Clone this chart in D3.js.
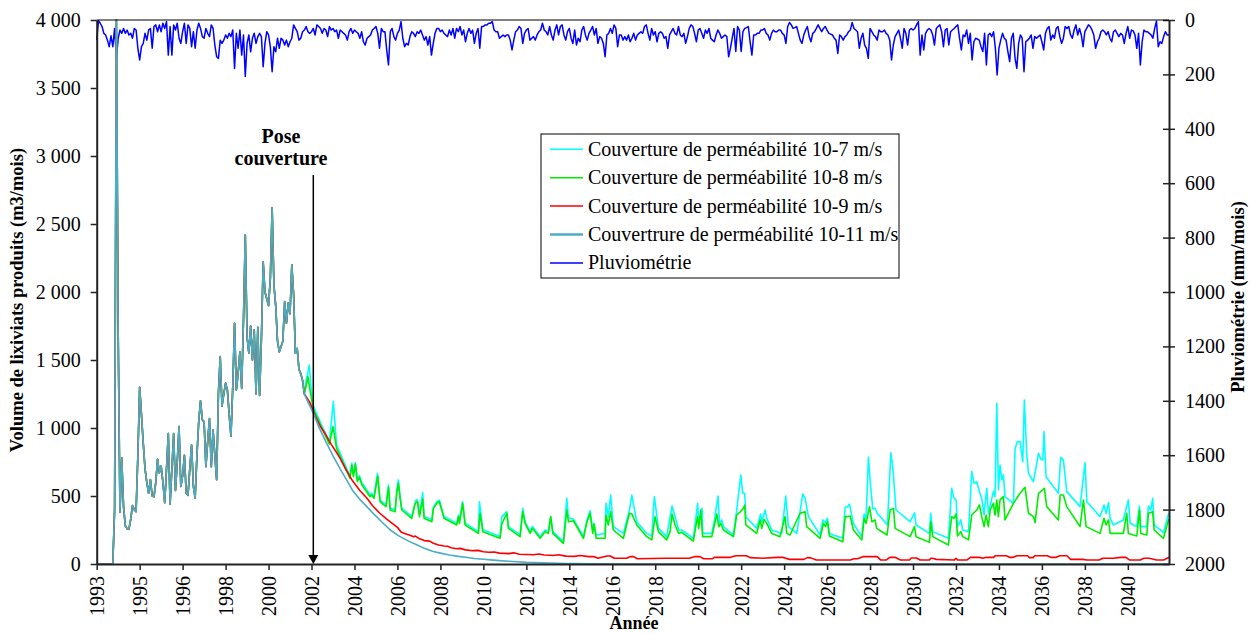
<!DOCTYPE html>
<html>
<head>
<meta charset="utf-8">
<script src="https://cdn.jsdelivr.net/npm/d3@7"></script>
<style>
    body { margin: 0; background: #ffffff; }
    svg text { font-family: "Liberation Serif", "Times New Roman", serif; }
</style>
</head>
<body>
<svg id="chart" width="1251" height="634"></svg>
<script>

// ----- DATA -----

// x axis is a month index from 1993, one label every 24 months
var tickYears = ["1993", "1995", "1996", "1998", "2000", "2002", "2004", "2006", "2008", "2010",
    "2012", "2014", "2016", "2018", "2020", "2022", "2024", "2026", "2028", "2030",
    "2032", "2034", "2036", "2038", "2040"];
var leftTicks = [0, 500, 1000, 1500, 2000, 2500, 3000, 3500, 4000];
var rightTicks = [0, 200, 400, 600, 800, 1000, 1200, 1400, 1600, 1800, 2000];
var poseMonth = 121;

// leachate volume before the cover (common to every scenario), months 0..116
var leachateBefore = [
    0, 0, 0, 0, 0, 0, 0, 0, 0, 0, 400, 4000,
    1700, 380, 780, 420, 280, 260, 255, 330, 430, 400, 385, 800,
    1300, 1100, 890, 700, 600, 520, 620, 500, 495, 600, 770, 670,
    720, 600, 450, 700, 960, 440, 700, 960, 540, 750, 1010, 570,
    650, 800, 520, 505, 700, 875, 570, 485, 800, 1050, 1200, 1060,
    1045, 716, 900, 1070, 716, 985, 800, 620, 1255, 1525, 1160, 1250,
    1330, 1280, 1100, 940, 1300, 1770, 1280, 1400, 1560, 1290, 1800, 2420,
    1670, 1550, 1750, 1500, 1720, 1250, 1740, 1240, 1650, 2220, 2000, 1950,
    1900, 2100, 2620, 2050, 1900, 1640, 1560, 1600, 1640, 1930, 1770, 1920,
    1840, 2200, 1980, 1550, 1585, 1430, 1400, 1350, 1250
];

// after the cover: [month, m3/mois]
var cover7 = [
    [116, 1250], [117, 1350], [118.8, 1463], [119.5, 1330], [121, 1160], [125, 1040], [130, 900], [132.2, 1194], [134, 875],
    [141.5, 647], [142.5, 740], [143.4, 655], [144.5, 745], [145.6, 620], [146.7, 650], [148.2, 595], [152.7, 510], [153.6, 520],
    [154.9, 497], [156.8, 667], [158.3, 470], [161.6, 433], [163, 581], [163.9, 410], [166.7, 398], [167.6, 540], [168.5, 618],
    [169.5, 497], [170.4, 410], [176, 350], [178.4, 471], [179.2, 470], [180.3, 362], [182.1, 525], [182.9, 350], [187.2, 325],
    [188.1, 420], [190, 458], [191.4, 470], [192.7, 410], [194, 350], [201.1, 300], [202.1, 360], [202.6, 312], [204.3, 458],
    [205.8, 300], [213.2, 238], [213.8, 458], [215.7, 252], [225.3, 202], [226.3, 348], [229.1, 385], [230, 275], [236.5, 214],
    [238, 409], [239.3, 312], [242.1, 238], [243.4, 275], [247.7, 202], [250.5, 250], [252.3, 238], [253.6, 348], [254.8, 238],
    [260.7, 165], [262.6, 483], [263.5, 340], [266.3, 330], [271.9, 202], [273.7, 315], [275.6, 392], [277.1, 250], [277.8, 299],
    [279, 213], [284, 225], [284.5, 446], [285.8, 348], [287.1, 507], [288.6, 275], [294.2, 225], [297.6, 397], [298.9, 507],
    [301.7, 311], [307.3, 225], [310.1, 206], [311.5, 495], [313.8, 262], [318.4, 201], [321.4, 426], [323.1, 348], [325.1, 250],
    [326.8, 250], [333.3, 189], [335.7, 446], [336.3, 299], [338.2, 409], [338.5, 225], [343.6, 225], [344.9, 311], [347.1, 500],
    [347.9, 299], [349.2, 324], [350.1, 275], [355.7, 213], [357.5, 397], [359.8, 654], [360.9, 520], [362, 520], [362.6, 348],
    [368.7, 262], [370.9, 368], [371.5, 311], [373.4, 397], [374.3, 336], [377.1, 250], [382.7, 225], [384.9, 500], [386.4, 275],
    [391.1, 225], [394.4, 515], [395.7, 483], [397.6, 348], [404.1, 213], [405.6, 324], [407.1, 304], [408.2, 336], [409.3, 225],
    [416.8, 189], [418.1, 417], [419.4, 421], [420.5, 441], [422.7, 299], [427.4, 201], [428.7, 368], [429.8, 336], [431.1, 784],
    [432, 618], [433.5, 409], [434.8, 409], [436.1, 373], [441.7, 287], [443.6, 818], [444.7, 716], [446.5, 397], [454.4, 311],
    [456.8, 377], [457.7, 287], [465.2, 225], [465.9, 373], [467, 238], [475.8, 189], [477.6, 556], [478.9, 483], [480.1, 471],
    [480.8, 275], [482.7, 324], [483.8, 250], [487, 238], [488.8, 679], [490.1, 593], [491.6, 605], [493.1, 532], [494.4, 483],
    [495.7, 360], [497.2, 556], [498.1, 373], [500.9, 532], [501.8, 495], [502.8, 1181], [503.7, 544], [504.6, 728], [505.6, 618],
    [506.5, 655], [507.4, 495], [512.1, 446], [513, 850], [514.3, 900], [515.8, 900], [517.3, 752], [518.2, 1206], [519.5, 814],
    [520.5, 667], [523.3, 605], [526.1, 814], [527.4, 770], [528.5, 765], [529.2, 973], [530.3, 642], [537.2, 520], [538.5, 784],
    [540, 765], [541.9, 532], [549.3, 422], [552.1, 745], [553.1, 458], [560.5, 348], [562.7, 434], [563.9, 373], [565.2, 451],
    [566.1, 336], [567.9, 287], [573.5, 324], [576.3, 471], [577.3, 299], [581, 275], [582.5, 426], [583.2, 275], [586.6, 275],
    [587.5, 426], [588.8, 397], [589.9, 483], [590.7, 287], [595.9, 230], [598.7, 368], [599, 372]
];

var cover8 = [
    [116, 1250], [117, 1310], [118, 1377], [119, 1290], [121, 1140], [125, 1022], [130, 882], [132, 1010], [134, 850],
    [141.5, 630], [142.5, 728], [143.4, 642], [144.5, 735], [145.6, 605], [146.7, 637], [148.2, 581], [152.7, 495], [153.6, 507],
    [154.9, 483], [157, 647], [158.3, 458], [161.6, 421], [163, 564], [163.9, 397], [166.7, 385], [167.6, 520], [168.5, 593],
    [169.5, 483], [170.4, 397], [176, 336], [177.9, 446], [179.2, 458], [180.3, 348], [182.1, 478], [182.9, 336], [187.2, 311],
    [188.1, 409], [190, 446], [191.4, 458], [192.7, 397], [194, 336], [201.1, 287], [202.1, 348], [202.6, 299], [204.5, 446],
    [205.8, 287], [213.2, 225], [214.2, 373], [215.7, 238], [225.3, 189], [226.3, 294], [229.1, 373], [230, 262], [236.5, 201],
    [238, 385], [239.3, 299], [242.1, 225], [243.4, 262], [247.7, 189], [250.5, 238], [252.3, 225], [253.6, 348], [254.8, 225],
    [260.7, 152], [262.6, 397], [263.5, 311], [266.3, 318], [271.9, 189], [273.7, 299], [275.6, 373], [277.1, 225], [277.8, 294],
    [279, 189], [284, 189], [284.5, 360], [285.8, 287], [287.1, 385], [288.6, 250], [294.2, 189], [297.6, 373], [298.9, 368],
    [301.7, 287], [307.3, 201], [310.1, 177], [311.9, 348], [313.8, 238], [318.4, 177], [320.3, 238], [321.4, 368], [323.1, 287],
    [325.1, 225], [326.8, 233], [333.3, 169], [335.6, 348], [336.3, 262], [337.4, 397], [338.5, 201], [343.6, 201], [344.9, 275],
    [346.4, 368], [347.5, 275], [348.6, 299], [350.1, 250], [355.7, 201], [357.5, 360], [359, 377], [361.3, 409], [362, 434],
    [362.6, 287], [368.7, 225], [370.6, 324], [371.5, 262], [372.8, 328], [374.3, 299], [377.1, 225], [381.7, 201], [384.5, 348],
    [385.5, 225], [387.3, 213], [392.9, 373], [395.7, 385], [396.6, 275], [404.1, 189], [406, 299], [407.1, 275], [408.2, 311],
    [409.3, 206], [416.8, 164], [418.1, 348], [419.4, 348], [420.9, 353], [422.7, 250], [427.4, 177], [428.7, 336], [429.8, 299],
    [431.7, 421], [433, 311], [434.8, 324], [435.7, 262], [441.5, 213], [443.2, 397], [445.1, 409], [446, 262], [454.4, 201],
    [456.8, 275], [457.7, 201], [465.2, 159], [465.9, 311], [467, 201], [475.8, 140], [477.6, 348], [478.9, 336], [480.1, 368],
    [480.8, 206], [482.7, 238], [483.8, 201], [487, 177], [488.8, 360], [491.6, 397], [493.1, 434], [494.4, 348], [495.7, 275],
    [496.8, 360], [498.1, 275], [499.1, 397], [500.9, 446], [501.8, 360], [502.8, 471], [503.7, 348], [504.6, 471], [506.5, 495],
    [507.4, 324], [512.1, 446], [515.8, 520], [518.6, 564], [520.5, 373], [523.3, 348], [524.2, 304], [526.1, 520], [529.4, 556],
    [530.7, 422], [537.2, 324], [538.2, 507], [540, 507], [541.9, 422], [549.3, 275], [551.2, 471], [552.7, 275], [560.5, 225],
    [562.7, 336], [563.9, 287], [565.2, 324], [566.1, 225], [573.5, 225], [575.4, 373], [576.3, 225], [581, 206], [582.5, 397],
    [583.2, 225], [586.6, 213], [587.5, 373], [589.9, 385], [590.7, 250], [595.9, 189], [598.7, 324], [599, 330]
];

var cover9 = [
    [116, 1250], [119, 1190], [122, 1090], [125, 1010], [128, 950], [131, 880], [134, 820], [136, 777], [139, 700], [143, 610],
    [147, 540], [151, 484], [154, 430], [158, 375], [162, 330], [166, 290], [168, 270], [170, 235], [172, 225], [175, 212],
    [177, 200], [178, 205], [180, 188], [183, 172], [186, 168], [188, 153], [191, 140], [194, 132], [196, 130], [198, 120],
    [201, 112], [203, 115], [206, 104], [210, 98], [213, 100], [216, 90], [219, 86], [222, 88], [225, 80], [230, 76],
    [233, 82], [236, 72], [240, 70], [244, 68], [247, 74], [250, 66], [255, 62], [258, 68], [262, 58], [267, 56],
    [270, 62], [275, 54], [278, 54], [280, 42], [285, 59], [287, 59], [289, 42], [296, 42], [298, 54], [300, 54],
    [302, 39], [318, 42], [331, 42], [334, 54], [337, 54], [339, 39], [344, 39], [345, 49], [354, 49], [357, 61],
    [363, 61], [365, 47], [372, 42], [380, 49], [383, 49], [387, 34], [395, 34], [397, 47], [399, 45], [402, 29],
    [421, 29], [423, 39], [425, 39], [428, 54], [436, 54], [438, 29], [441, 29], [443, 49], [446, 49], [449, 29],
    [454, 29], [455, 44], [458, 44], [460, 29], [465, 29], [466, 42], [467, 42], [469, 34], [479, 29], [480, 42],
    [481, 29], [486, 29], [488, 49], [493, 49], [495, 42], [497, 49], [501, 49], [502, 61], [508, 61], [510, 49],
    [512, 49], [514, 61], [520, 61], [521, 47], [523, 47], [524, 61], [531, 61], [533, 49], [536, 49], [538, 61],
    [542, 61], [544, 34], [551, 34], [553, 29], [560, 29], [562, 42], [568, 42], [572, 49], [575, 49], [577, 29],
    [583, 29], [585, 42], [588, 42], [592, 29], [596, 29], [599, 49]
];

var cover11 = [
    [116, 1250], [118, 1190], [121, 1110], [124, 1010], [128, 900], [132, 795], [136, 700], [140, 610], [143, 540],
    [147, 475], [151, 420], [155, 365], [160, 300], [164, 250], [169, 205], [174, 170], [179, 140], [183, 115],
    [188, 92], [192, 80], [197, 66], [202, 56], [207, 48], [211, 41], [216, 35], [220, 30], [225, 25], [230, 20],
    [235, 16], [240, 12], [244, 10], [249, 8], [253, 7], [258, 5], [262, 4], [268, 3], [275, 2], [285, 1], [295, 0], [599, 0]
];

// rainfall, mm/mois, months 0..599 (one row per year)
var rain = [
    74, 3, 12, 24, 49, 55, 74, 98, 58, 98, 31, 141,
    67, 37, 49, 31, 49, 37, 55, 49, 67, 31, 37, 104,
    147, 98, 86, 49, 74, 37, 31, 104, 24, 18, 43, 18,
    43, 12, 31, 6, 129, 24, 129, 18, 37, 12, 67, 86,
    43, 12, 86, 18, 31, 98, 43, 104, 37, 12, 31, 61,
    67, 31, 49, 61, 18, 31, 92, 135, 141, 74, 86, 74,
    55, 67, 49, 61, 37, 178, 49, 104, 37, 129, 55, 208,
    86, 55, 117, 67, 49, 86, 61, 49, 61, 172, 86, 43,
    55, 98, 190, 98, 117, 67, 104, 67, 74, 92, 74, 98,
    80, 67, 18, 31, 43, 74, 67, 43, 37, 24, 43, 49,
    43, 31, 55, 18, 24, 31, 49, 31, 37, 61, 24, 37,
    31, 43, 37, 67, 37, 43, 49, 55, 74, 43, 31, 49,
    37, 43, 49, 67, 43, 80, 92, 67, 61, 55, 37, 31,
    24, 49, 104, 31, 43, 43, 110, 165, 43, 31, 61, 74,
    49, 37, 6, 67, 98, 86, 92, 61, 43, 49, 61, 43,
    49, 37, 55, 74, 61, 92, 61, 129, 86, 49, 31, 31,
    43, 37, 49, 55, 61, 37, 55, 31, 67, 31, 43, 24,
    55, 37, 80, 49, 31, 49, 37, 86, 49, 31, 104, 24,
    24, 18, 18, 12, 12, 6, 37, 43, 43, 67, 61, 55,
    61, 55, 55, 74, 110, 74, 43, 37, 24, 31, 86, 49,
    37, 31, 74, 67, 61, 74, 55, 43, 37, 12, 37, 43,
    55, 24, 55, 74, 37, 18, 55, 24, 18, 55, 74, 43,
    31, 67, 86, 37, 92, 67, 80, 37, 24, 55, 74, 49,
    37, 24, 55, 31, 86, 61, 67, 86, 135, 55, 49, 31,
    49, 18, 31, 98, 55, 55, 74, 61, 74, 55, 80, 67,
    49, 74, 55, 49, 43, 49, 24, 18, 49, 74, 31, 55,
    43, 80, 49, 43, 49, 67, 61, 104, 55, 43, 31, 49,
    55, 24, 55, 61, 49, 86, 61, 31, 18, 24, 49, 80,
    37, 31, 49, 67, 37, 49, 31, 67, 74, 80, 55, 37,
    49, 67, 61, 55, 61, 135, 104, 67, 31, 116, 24, 37,
    116, 43, 31, 28, 24, 80, 129, 55, 55, 49, 49, 37,
    37, 31, 49, 55, 74, 49, 37, 43, 43, 37, 37, 49,
    55, 86, 24, 9, 18, 31, 28, 24, 49, 74, 86, 55,
    37, 24, 61, 80, 49, 43, 31, 18, 31, 43, 31, 24,
    37, 49, 52, 55, 67, 74, 123, 55, 61, 74, 61, 55,
    43, 37, 9, 31, 37, 43, 104, 67, 49, 92, 104, 141,
    31, 43, 55, 61, 74, 37, 43, 43, 37, 49, 55, 74,
    147, 92, 61, 49, 37, 67, 104, 31, 49, 92, 37, 31,
    37, 31, 18, 6, 129, 55, 110, 49, 37, 31, 37, 55,
    92, 31, 24, 18, 43, 98, 37, 31, 92, 43, 37, 31,
    24, 18, 67, 110, 55, 61, 37, 86, 49, 147, 80, 67,
    70, 74, 98, 116, 49, 165, 55, 49, 61, 43, 104, 202,
    104, 74, 49, 67, 74, 116, 153, 67, 49, 141, 178, 86,
    55, 67, 190, 80, 74, 67, 55, 104, 61, 67, 61, 55,
    80, 110, 49, 31, 24, 74, 55, 67, 31, 24, 61, 86,
    67, 24, 31, 24, 55, 67, 37, 18, 55, 31, 55, 98,
    43, 31, 18, 24, 37, 55, 104, 80, 67, 43, 37, 43,
    55, 43, 67, 80, 43, 37, 49, 61, 49, 55, 86, 49,
    24, 67, 37, 40, 55, 104, 49, 165, 80, 37, 43, 43,
    49, 55, 67, 31, 4, 98, 80, 86, 61, 43, 55, 55
];

var seriesNames = ["Couverture de perméabilité 10-7 m/s", "Couverture de perméabilité 10-8 m/s",
    "Couverture de perméabilité 10-9 m/s", "Couvertrure de perméabilité 10-11 m/s", "Pluviométrie"];
var seriesColors = ["#00ffff", "#00ee00", "#ff0000", "#4bacc6", "#0000ff"];

// ----- SCALES -----

var svg = d3.select("#chart");
var x = d3.scaleLinear().domain([0, 599]).range([96.7, 1169]);
var yLeft = d3.scaleLinear().domain([0, 4000]).range([564, 20]);
var yRight = d3.scaleLinear().domain([0, 2000]).range([20, 564]);

var before = leachateBefore.map(function(v, i) { return [i, v]; });
before.pop();  // month 116 is the first point of each scenario
var scenarios = [cover7, cover8, cover9, cover11].map(function(s) { return before.concat(s); });

var lineLeft = d3.line().x(function(d) { return x(d[0]); }).y(function(d) { return yLeft(d[1]); });
var lineRain = d3.line().x(function(d, i) { return x(i); }).y(function(d) { return yRight(d); });

// ----- LINES -----

svg.append("path")
    .attr("d", lineRain(rain))
    .attr("fill", "none")
    .attr("stroke", seriesColors[4])
    .attr("stroke-width", 1.5)
    .attr("stroke-linejoin", "round");

scenarios.forEach(function(s, i) {
    svg.append("path")
        .attr("d", lineLeft(s))
        .attr("fill", "none")
        .attr("stroke", seriesColors[i])
        .attr("stroke-width", 1.6)
        .attr("stroke-linejoin", "round");
});

// ----- AXES -----

var fmtLeft = function(d) { return d3.format(",")(d).replace(",", " "); };

var gLeft = svg.append("g")
    .attr("transform", "translate(" + x(0) + ",0)")
    .call(d3.axisLeft(yLeft).tickValues(leftTicks).tickFormat(fmtLeft).tickSize(6).tickSizeOuter(0).tickPadding(10));

var gRight = svg.append("g")
    .attr("transform", "translate(" + x(599) + ",0)")
    .call(d3.axisRight(yRight).tickValues(rightTicks).tickFormat(d3.format("d")).tickSize(6).tickSizeOuter(0).tickPadding(10));
gRight.selectAll(".tick line").attr("x1", -6);

var gBottom = svg.append("g")
    .attr("transform", "translate(0," + yLeft(0) + ")")
    .call(d3.axisBottom(x).tickValues(tickYears.map(function(d, i) { return i * 24; }))
        .tickFormat(function(d, i) { return tickYears[i]; }).tickSize(6).tickSizeOuter(0));
gBottom.selectAll(".tick text")
    .attr("transform", "rotate(-90)")
    .attr("x", -12)
    .attr("y", 0)
    .attr("dy", "0.35em")
    .attr("text-anchor", "end");

[gLeft, gRight, gBottom].forEach(function(g) {
    g.attr("font-family", null).attr("font-size", null);
    g.select(".domain").attr("stroke", "#222").attr("stroke-width", 2);
    g.selectAll(".tick line").attr("stroke", "#222").attr("stroke-width", 1.5);
    g.selectAll(".tick text").attr("fill", "#000").style("font-size", "20px");
});

// top border of the plot
svg.append("line")
    .attr("x1", x(0)).attr("x2", x(599))
    .attr("y1", yLeft(4000)).attr("y2", yLeft(4000))
    .attr("stroke", "#000").attr("stroke-width", 1);

// ----- TITLES -----

svg.append("text")
    .attr("transform", "translate(23,300) rotate(-90)")
    .attr("text-anchor", "middle")
    .style("font-size", "18.5px").style("font-weight", "bold")
    .text("Volume de lixiviats produits (m3/mois)");

svg.append("text")
    .attr("transform", "translate(1244,297) rotate(-90)")
    .attr("text-anchor", "middle")
    .style("font-size", "18.5px").style("font-weight", "bold")
    .text("Pluviométrie (mm/mois)");

svg.append("text")
    .attr("x", 634).attr("y", 629)
    .attr("text-anchor", "middle")
    .style("font-size", "18px").style("font-weight", "bold")
    .text("Année");

// ----- POSE COUVERTURE -----

svg.append("text")
    .attr("x", 281).attr("y", 143)
    .attr("text-anchor", "middle")
    .style("font-size", "20px").style("font-weight", "bold")
    .text("Pose");
svg.append("text")
    .attr("x", 281).attr("y", 165)
    .attr("text-anchor", "middle")
    .style("font-size", "20px").style("font-weight", "bold")
    .text("couverture");

var ax = x(poseMonth);
svg.append("line")
    .attr("x1", ax).attr("x2", ax)
    .attr("y1", 175).attr("y2", yLeft(0) - 8)
    .attr("stroke", "#000").attr("stroke-width", 1.5);
svg.append("path")
    .attr("d", "M " + (ax - 5) + " " + (yLeft(0) - 9) + " L " + (ax + 5) + " " + (yLeft(0) - 9) + " L " + ax + " " + yLeft(0) + " Z")
    .attr("fill", "#000");

// ----- LEGEND -----

var legend = svg.append("g").attr("transform", "translate(541,134)");
legend.append("rect")
    .attr("width", 358).attr("height", 144)
    .attr("fill", "#fff").attr("stroke", "#000").attr("stroke-width", 1);

seriesNames.forEach(function(name, i) {
    var ly = 15.3 + i * 28.4;
    legend.append("line")
        .attr("x1", 9).attr("x2", 42)
        .attr("y1", ly).attr("y2", ly)
        .attr("stroke", seriesColors[i])
        .attr("stroke-width", i == 3 ? 2.5 : 1.5);
    legend.append("text")
        .attr("x", 47).attr("y", ly + 6.5)
        .style("font-size", "20px")
        .text(name);
});

</script>
</body>
</html>
